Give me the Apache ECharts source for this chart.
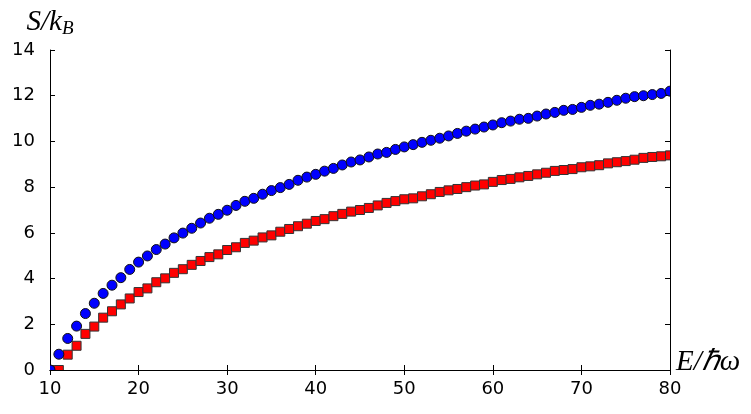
<!DOCTYPE html>
<html>
<head>
<meta charset="utf-8">
<script src="https://cdn.jsdelivr.net/npm/echarts@6/dist/echarts.min.js"></script>
<style>
  html, body { margin: 0; padding: 0; background: #fff; }
  #chart { width: 751px; height: 414px; }
</style>
</head>
<body>
<div id="chart"></div>
<script>
// energies E/hbar*omega
var energy = [10, 11, 12, 13, 14, 15, 16, 17, 18, 19, 20, 21, 22, 23, 24, 25, 26, 27, 28, 29,
  30, 31, 32, 33, 34, 35, 36, 37, 38, 39, 40, 41, 42, 43, 44, 45, 46, 47, 48, 49,
  50, 51, 52, 53, 54, 55, 56, 57, 58, 59, 60, 61, 62, 63, 64, 65, 66, 67, 68, 69,
  70, 71, 72, 73, 74, 75, 76, 77, 78, 79, 80];

// blue circles
var entropyBlue = [0, 0.69, 1.38, 1.92, 2.47, 2.92, 3.35, 3.71, 4.04, 4.40,
  4.72, 4.99, 5.27, 5.51, 5.78, 5.99, 6.20, 6.43, 6.64, 6.81,
  6.99, 7.20, 7.38, 7.51, 7.69, 7.85, 7.98, 8.12, 8.30, 8.44,
  8.56, 8.70, 8.82, 8.97, 9.10, 9.19, 9.32, 9.45, 9.52, 9.65,
  9.76, 9.86, 9.96, 10.05, 10.14, 10.24, 10.35, 10.45, 10.54, 10.63,
  10.72, 10.82, 10.89, 10.97, 11.01, 11.11, 11.20, 11.27, 11.36, 11.40,
  11.49, 11.58, 11.63, 11.71, 11.80, 11.89, 11.96, 12.00, 12.05, 12.10,
  12.20];

// red squares
var entropyRed = [0, 0, 0.67, 1.06, 1.58, 1.90, 2.29, 2.57, 2.87, 3.13,
  3.41, 3.57, 3.84, 4.01, 4.25, 4.41, 4.60, 4.77, 4.94, 5.06,
  5.25, 5.37, 5.56, 5.66, 5.80, 5.89, 6.05, 6.17, 6.29, 6.40,
  6.52, 6.60, 6.73, 6.83, 6.93, 7.00, 7.09, 7.20, 7.31, 7.39,
  7.47, 7.51, 7.60, 7.69, 7.79, 7.86, 7.92, 8.00, 8.07, 8.12,
  8.23, 8.31, 8.36, 8.43, 8.49, 8.56, 8.63, 8.71, 8.75, 8.79,
  8.87, 8.91, 8.96, 9.04, 9.09, 9.14, 9.20, 9.28, 9.32, 9.35,
  9.39];

var chart = echarts.init(document.getElementById("chart"));

var lineStyle = { color: "#000", width: 1 };
var labelFont = { color: "#000", fontSize: 18, fontFamily: "DejaVu Sans" };
var mathFont = { fontFamily: "Liberation Serif", fontStyle: "italic", color: "#000" };

function pairs(ys) {
  return energy.map(function(e, i) {
    return [e, ys[i]];
  });
}

// markers clipped at the frame, like matplotlib does
function squareItem(params, api) {
  var p = api.coord([api.value(0), api.value(1)]);
  return {
    type: "rect",
    shape: { x: p[0] - 4.5, y: p[1] - 4.5, width: 9, height: 9 },
    style: { fill: "#ff0000", stroke: "#333", lineWidth: 1 }
  };
}

function circleItem(params, api) {
  var p = api.coord([api.value(0), api.value(1)]);
  return {
    type: "circle",
    shape: { cx: p[0], cy: p[1], r: 5 },
    style: { fill: "#0000ff", stroke: "#111", lineWidth: 1 }
  };
}

chart.setOption({
  backgroundColor: "#fff",
  animation: false,
  grid: { left: 50, right: 81, top: 50, bottom: 44 },
  xAxis: [
    {
      type: "value",
      min: 10,
      max: 80,
      interval: 10,
      axisLine: { show: true, lineStyle: lineStyle },
      axisTick: { show: true, inside: true, length: 5, lineStyle: lineStyle },
      axisLabel: Object.assign({ margin: 10 }, labelFont),
      splitLine: { show: false },
      name: "E/\u210F\u03C9",
      nameLocation: "end",
      nameGap: 6,
      nameTextStyle: Object.assign({ fontSize: 29, verticalAlign: "bottom", padding: [0, 0, -7, 0] }, mathFont)
    },
    {
      type: "value",
      position: "top",
      min: 10,
      max: 80,
      interval: 10,
      axisLine: { show: true, lineStyle: lineStyle },
      axisTick: { show: true, inside: true, length: 5, lineStyle: lineStyle },
      axisLabel: { show: false },
      splitLine: { show: false }
    }
  ],
  yAxis: [
    {
      type: "value",
      min: 0,
      max: 14,
      interval: 2,
      axisLine: { show: true, lineStyle: lineStyle },
      axisTick: { show: true, inside: true, length: 5, lineStyle: lineStyle },
      axisLabel: Object.assign({ margin: 15 }, labelFont),
      splitLine: { show: false },
      name: "{a|S/k}{b|B}",
      nameLocation: "end",
      nameGap: 12,
      nameTextStyle: {
        rich: {
          a: Object.assign({ fontSize: 29, lineHeight: 32 }, mathFont),
          b: Object.assign({ fontSize: 19, lineHeight: 32, padding: [14, 0, 0, 0] }, mathFont)
        }
      }
    },
    {
      type: "value",
      position: "right",
      min: 0,
      max: 14,
      interval: 2,
      axisLine: { show: true, lineStyle: lineStyle },
      axisTick: { show: true, inside: true, length: 5, lineStyle: lineStyle },
      axisLabel: { show: false },
      splitLine: { show: false }
    }
  ],
  series: [
    {
      name: "red",
      type: "custom",
      renderItem: squareItem,
      clip: true,
      data: pairs(entropyRed),
      z: 2
    },
    {
      name: "blue",
      type: "custom",
      renderItem: circleItem,
      clip: true,
      data: pairs(entropyBlue),
      z: 3
    }
  ]
});
</script>
</body>
</html>
